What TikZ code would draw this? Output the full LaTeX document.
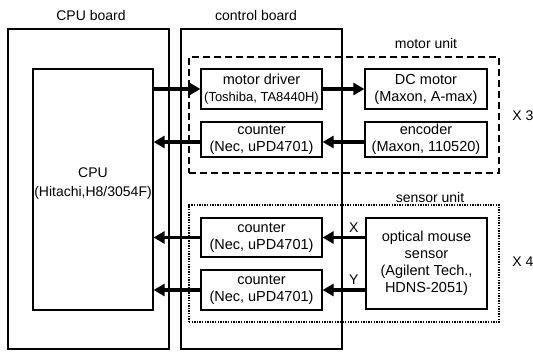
\documentclass[tikz,border=0pt]{standalone}
\usepackage{fontspec}
\setmainfont{Liberation Sans}
\usetikzlibrary{arrows.meta}

\begin{document}
\begin{tikzpicture}[x=1pt, y=-1pt,
        box/.style={draw, line width=1.2pt, inner sep=0pt, align=center, font=\fontsize{14.5}{17}\selectfont},
        board/.style={draw, line width=1.3pt, inner sep=0pt},
        sig/.style={line width=3.5pt, -{Triangle[length=11pt, width=12pt]}},
        lbl/.style={font=\fontsize{14}{17}\selectfont}]
        \useasboundingbox (0,0) rectangle (533,352);

        % Schede
        \node[board, minimum width=161pt, minimum height=320pt] (cpuboard) at (88.5,189) {};
        \node[board, minimum width=161pt, minimum height=320pt] (ctrlboard) at (261.5,189) {};
        \node[lbl] (cpuboardlbl) at (91,16) {CPU board};
        \node[lbl] (ctrlboardlbl) at (256,16) {control board};

        % Unita
        \node[draw, line width=2pt, dash pattern=on 7pt off 4pt, minimum width=310pt, minimum height=116pt] (motorunit) at (344,115) {};
        \node[draw, line width=1.6pt, dash pattern=on 1.4pt off 1.2pt, minimum width=310pt, minimum height=117pt] (sensorunit) at (344,263.5) {};
        \node[lbl] (motorunitlbl) at (426,44) {motor unit};
        \node[lbl] (sensorunitlbl) at (430,197) {sensor unit};
        \node[lbl] (times3) at (523,116) {X 3};
        \node[lbl] (times4) at (523,262) {X 4};

        % Blocchi
        \node[box, minimum width=120pt, minimum height=241pt, font=\fontsize{14}{19}\selectfont] (cpu) at (93,189.5) {CPU\\(Hitachi,H8/3054F)\\[-5pt]};
        \node[box, minimum width=121pt, minimum height=40pt] (driver) at (261.5,89) {motor driver\\{\fontsize{13}{15}\selectfont(Toshiba, TA8440H)}};
        \node[box, minimum width=121pt, minimum height=35pt] (cnta) at (261.5,139.5) {counter\\(Nec, uPD4701)};
        \node[box, minimum width=122pt, minimum height=40pt] (dcmotor) at (426,89) {DC motor\\(Maxon, A-max)};
        \node[box, minimum width=122pt, minimum height=35pt] (encoder) at (426,139.5) {encoder\\(Maxon, 110520)};
        \node[box, minimum width=121pt, minimum height=39pt] (cntb) at (261.5,237.5) {counter\\(Nec, uPD4701)};
        \node[box, minimum width=121pt, minimum height=40pt] (cntc) at (261.5,290) {counter\\(Nec, uPD4701)};
        \node[box, minimum width=121pt, minimum height=91pt] (mouse) at (426.5,263.5) {optical mouse\\sensor\\(Agilent Tech.,\\HDNS-2051)};

        % Segnali
        \draw[sig] (cpu.east |- driver.west) -- (driver.west);
        \draw[sig] (driver.east) -- (dcmotor.west);
        \draw[sig] ([yshift=-2.5pt]encoder.west) -- ([yshift=-2.5pt]cnta.east);
        \draw[sig] ([yshift=-2.5pt]cnta.west) -- ([yshift=-2.5pt]cpu.east |- cnta.west);
        \draw[sig] (mouse.west |- cntb.east) -- node[lbl, pos=0.27, above] {X} (cntb.east);
        \draw[sig] (mouse.west |- cntc.east) -- node[lbl, pos=0.27, above] {Y} (cntc.east);
        \draw[sig] (cntb.west) -- (cpu.east |- cntb.west);
        \draw[sig] (cntc.west) -- (cpu.east |- cntc.west);

\end{tikzpicture}
\end{document}
